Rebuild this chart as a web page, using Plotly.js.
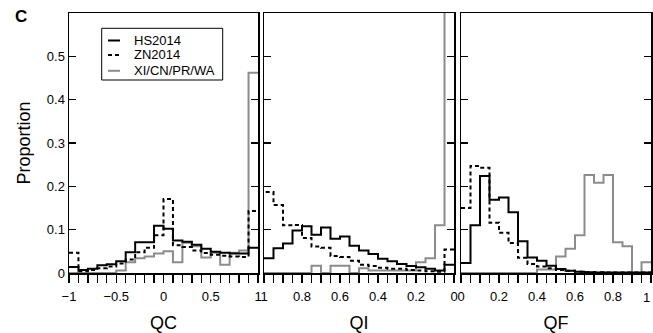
<!DOCTYPE html>
<html><head><meta charset="utf-8">
<script src="https://cdn.plot.ly/plotly-3.0.1.min.js"></script>
<style>html,body{margin:0;padding:0;background:#fff}</style>
</head><body><div id="chart" style="width:653px;height:333px"></div>
<script>
// ---- data ----
const seriesNames = ['HS2014', 'ZN2014', 'XI/CN/PR/WA'];
const panelTitles = ['QC', 'QI', 'QF'];

// bin edges
const qcEdges = [-1,-0.9,-0.8,-0.7,-0.6,-0.5,-0.4,-0.3,-0.2,-0.1,0,0.1,0.2,0.3,0.4,0.5,0.6,0.7,0.8,0.9,1];
const qiEdges = [0,0.05,0.1,0.15,0.2,0.25,0.3,0.35,0.4,0.45,0.5,0.55,0.6,0.65,0.7,0.75,0.8,0.85,0.9,0.95,1];
const qfEdges = [0,0.05,0.1,0.15,0.2,0.25,0.3,0.35,0.4,0.45,0.5,0.55,0.6,0.65,0.7,0.75,0.8,0.85,0.9,0.95,1];

// tick labels
const qcTicks = [-1,-0.5,0,0.5,1];
const qiTicks = [0,0.2,0.4,0.6,0.8,1];
const qfTicks = [0,0.2,0.4,0.6,0.8,1];
const yTicks = [0,0.1,0.2,0.3,0.4,0.5];

// proportions per bin (bin order = ascending edges)
const qcHS = [0.014,0.007,0.010,0.018,0.020,0.027,0.048,0.071,0.071,0.109,0.102,0.075,0.072,0.065,0.056,0.049,0.047,0.045,0.045,0.058];
const qcZN = [0.047,0.004,0.007,0.011,0.015,0.022,0.031,0.048,0.058,0.087,0.171,0.064,0.060,0.052,0.046,0.042,0.040,0.038,0.037,0.143];
const qcXI = [0,0,0,0,0,0.006,0.025,0.034,0.038,0.045,0.050,0.025,0.070,0.062,0.036,0.047,0.019,0.047,0.052,0.462];

const qiHS = [0.019,0.006,0.010,0.013,0.016,0.021,0.027,0.033,0.044,0.052,0.063,0.084,0.079,0.105,0.088,0.108,0.098,0.068,0.057,0.034];
const qiZN = [0.054,0.003,0.004,0.006,0.007,0.010,0.010,0.012,0.016,0.019,0.028,0.037,0.039,0.058,0.061,0.081,0.111,0.110,0.157,0.187];
const qiXI = [0.70,0.110,0.034,0.025,0.006,0.006,0.006,0.006,0.006,0.011,0,0.017,0.017,0,0.017,0,0,0,0,0];

const qfHS = [0.023,0.110,0.224,0.169,0.174,0.140,0.073,0.036,0.028,0.017,0.009,0.005,0.003,0.002,0.001,0.001,0.001,0.001,0.001,0.001];
const qfZN = [0.150,0.247,0.243,0.116,0.093,0.069,0.035,0.021,0.015,0.011,0.007,0.005,0.003,0.002,0.002,0.001,0.001,0.001,0.001,0.001];
const qfXI = [0,0,0,0,0,0,0,0,0.008,0.008,0.038,0.056,0.087,0.226,0.208,0.226,0.071,0.062,0,0.025];

// ---- styles ----
const styles = [
  {color:'#000000', width:2, dash:'solid'},
  {color:'#000000', width:2, dash:'4px,3px'},
  {color:'#8c8c8c', width:2, dash:'solid'}
];

function stepTrace(edges, vals, s, xa, ya, name){
  return {
    type:'scatter', mode:'lines', name:name, showlegend:false,
    x: edges, y: vals.concat([vals[vals.length-1]]),
    line:{shape:'hv', color:styles[s].color, width:styles[s].width, dash:styles[s].dash},
    xaxis:xa, yaxis:ya, hoverinfo:'skip'
  };
}

const panels = [
  {edges:qcEdges, vals:[qcHS,qcZN,qcXI], xa:'x',  ya:'y'},
  {edges:qiEdges, vals:[qiHS,qiZN,qiXI], xa:'x2', ya:'y2'},
  {edges:qfEdges, vals:[qfHS,qfZN,qfXI], xa:'x3', ya:'y3'}
];
const traces = [];
panels.forEach(p=>{
  [2,1,0].forEach(s=>traces.push(stepTrace(p.edges, p.vals[s], s, p.xa, p.ya, seriesNames[s])));
});

const FONT = 'Arial, "Liberation Sans", sans-serif';
const fmt = v => v < 0 ? '\u2212' + String(-v) : String(v);
function xAxis(domain, range, ticks, minorTicks, title, anchor, hideLast){
  const txt = ticks.map(fmt);
  if (hideLast) txt[txt.length-1] = '';
  return {
    domain:domain, range:range, anchor:anchor,
    tickmode:'array', tickvals:ticks, ticktext:txt,
    ticks:'outside', ticklen:8, tickwidth:1.3, tickcolor:'#000',
    ticklabelstandoff:3,
    minor:{tickmode:'array', tickvals:minorTicks, ticks:'outside', ticklen:8, tickwidth:1.3, tickcolor:'#000', showgrid:false},
    showline:true, mirror:true, linecolor:'#000', linewidth:1.5,
    showgrid:false, zeroline:false,
    tickfont:{family:FONT, size:13, color:'#000'},
    title:{text:title, font:{family:FONT, size:18, color:'#000'}, standoff:24}
  };
}
function yAxis(anchor, labels){
  return {
    domain:[0,1], range:[0,0.6], anchor:anchor,
    tickmode:'array', tickvals:yTicks, ticktext:yTicks.map(fmt),
    ticks:'inside', ticklen:7, tickwidth:1.3, tickcolor:'#000',
    showline:true, mirror:'ticks', linecolor:'#000', linewidth:1.5,
    showgrid:false, zeroline:false, showticklabels:labels,
    tickfont:{family:FONT, size:13, color:'#000'},
    title: labels ? {text:'Proportion', font:{family:FONT, size:18, color:'#000'}, standoff:11} : {text:''}
  };
}

const W = 582, H = 260, L = 69, T = 13;
const px = v => (v - L) / W;
const py = v => (T + H - v) / H;

const shapes = [
  {type:'rect', xref:'paper', yref:'paper', x0:px(101.7), x1:px(222.7), y0:py(80), y1:py(28.3), line:{color:'#000', width:1}}
];
const rowsY = [40.5, 55, 70.8];
const annotations = [
  {xref:'paper', yref:'paper', x:px(21), y:py(17), text:'<b>C</b>', showarrow:false,
   font:{family:FONT, size:17, color:'#000'}, xanchor:'center', yanchor:'middle'},
  // last QF tick label, kept inside the page edge
  {xref:'x3', yref:'paper', x:qfTicks[qfTicks.length-1], y:py(297), text:fmt(qfTicks[qfTicks.length-1]), showarrow:false,
   xanchor:'right', yanchor:'middle', xshift:1, font:{family:FONT, size:13, color:'#000'}}
];
seriesNames.forEach((n,i)=>{
  shapes.push({type:'line', xref:'paper', yref:'paper', x0:px(108), x1:px(120), y0:py(rowsY[i]), y1:py(rowsY[i]),
    line:{color:styles[i].color, width:styles[i].width, dash:styles[i].dash}});
  annotations.push({xref:'paper', yref:'paper', x:px(132), y:py(rowsY[i]), text:n, showarrow:false,
    xanchor:'left', yanchor:'middle', font:{family:FONT, size:13, color:'#000'}});
});

const layout = {
  width:653, height:333,
  margin:{l:L, r:2, t:T, b:60, pad:0},
  paper_bgcolor:'#fff', plot_bgcolor:'#fff',
  showlegend:false,
  xaxis:  xAxis([0, px(258)], [-1,1], qcTicks, qcEdges, panelTitles[0], 'y', false),
  xaxis2: xAxis([px(264), px(454)], [1,0], qiTicks, qiEdges, panelTitles[1], 'y2', false),
  xaxis3: xAxis([px(461), 1], [0,1], qfTicks, qfEdges, panelTitles[2], 'y3', true),
  yaxis:  yAxis('x', true),
  yaxis2: yAxis('x2', false),
  yaxis3: yAxis('x3', false),
  shapes:shapes, annotations:annotations
};

Plotly.newPlot('chart', traces, layout, {displayModeBar:false, staticPlot:true});
</script></body></html>
